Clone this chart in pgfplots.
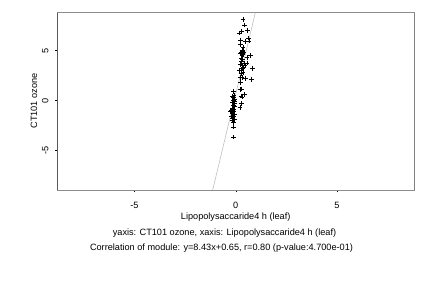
\documentclass[border=0pt]{standalone}
\usepackage{pgfplots}
\pgfplotsset{compat=1.18}
\usepackage{fontspec}
\setmainfont{Liberation Sans}
\newcommand{\rf}{\fontsize{9.2}{11}\selectfont}
\begin{document}
\begin{tikzpicture}
\path[use as bounding box] (0,0) rectangle (432bp,288bp);
\begin{axis}[
  at={(57.5bp,98bp)}, anchor=south west,
  scale only axis, width=356.5bp, height=177.3bp,
  xmin=-8.8, xmax=8.8, ymin=-8.95, ymax=8.8,
  xtick={-5,0,5}, ytick={-5,0,5},
  tick align=outside, major tick length=2.5bp,
  tick style={black, line width=0.5pt},
  xtick pos=bottom, ytick pos=left,
  axis line style={draw=black!45, line width=0.6pt},
  /pgf/number format/assume math mode=true,
  tick label style={font=\rf},
  yticklabel style={rotate=90, anchor=south},
  yticklabel shift=3bp,
  xticklabel shift=6bp,
  clip=true,
]
\addplot[black!25, line width=0.6pt] coordinates {(-1.139,-8.95) (0.967,8.8)};
\addplot[only marks, mark=+, mark size=2.3pt, black, line width=0.55pt] coordinates {
(0.35,8.1) (0.44,7.55) (0.58,7.0) (0.27,6.9) (0.19,6.75) (0.64,6.25) (0.65,5.95)
(0.24,6.05) (0.45,5.9) (0.22,5.6) (0.36,5.3) (0.30,5.0) (0.33,4.9) (0.40,4.85)
(0.27,4.8) (0.21,4.7) (0.36,4.6) (0.30,4.55) (0.72,4.5) (0.56,4.3) (0.25,4.25)
(0.33,4.1) (0.28,3.9) (0.40,3.75) (0.56,3.75) (0.22,3.6) (0.30,3.55) (0.45,3.5)
(0.37,3.3) (0.82,3.2) (0.33,3.2) (0.19,3.0) (0.28,3.0) (0.36,2.8) (0.25,2.7)
(0.30,2.3) (0.20,2.3) (0.48,2.2) (0.77,2.1) (0.24,1.8) (0.22,1.1) (0.28,1.15)
(0.42,0.6) (0.30,0.35) (0.25,0.45) (0.27,-0.3) (0.20,-0.7)
(-0.12,0.9) (-0.08,0.5) (-0.12,0.3) (-0.05,0.15) (-0.10,0.0) (-0.15,-0.2)
(-0.07,-0.3) (-0.12,-0.5) (-0.05,-0.6) (-0.17,-0.75) (-0.10,-0.85) (-0.20,-1.0)
(-0.08,-1.05) (-0.13,-1.2) (-0.25,-1.1) (-0.15,-1.3) (-0.05,-1.4) (-0.22,-1.55)
(-0.10,-1.6) (-0.15,-1.75) (-0.07,-1.9) (-0.18,-2.0) (-0.12,-2.2) (-0.10,-2.65)
(-0.12,-3.65) (-0.05,-0.1) (-0.15,0.4)
};
\draw[black, line width=0.6pt] (rel axis cs:0,0) -- (rel axis cs:0,1);
\draw[black!75, line width=0.6pt] (rel axis cs:1,0) -- (rel axis cs:1,1);
\draw[black, line width=0.6pt] (axis cs:-5,-8.95) -- (axis cs:5,-8.95);
\end{axis}
\node[font=\rf, rotate=90] at (34bp,187bp) {CT101 ozone};
\node[font=\rf] at (235.7bp,70.5bp) {Lipopolysaccaride4 h (leaf)};
\node[font=\rf] at (224.5bp,55bp) {yaxis: CT101 ozone, xaxis: Lipopolysaccaride4 h (leaf)};
\node[font=\rf] at (221.5bp,39.5bp) {Correlation of module: y=8.43x+0.65, r=0.80 (p-value:4.700e-01)};
\end{tikzpicture}
\end{document}
